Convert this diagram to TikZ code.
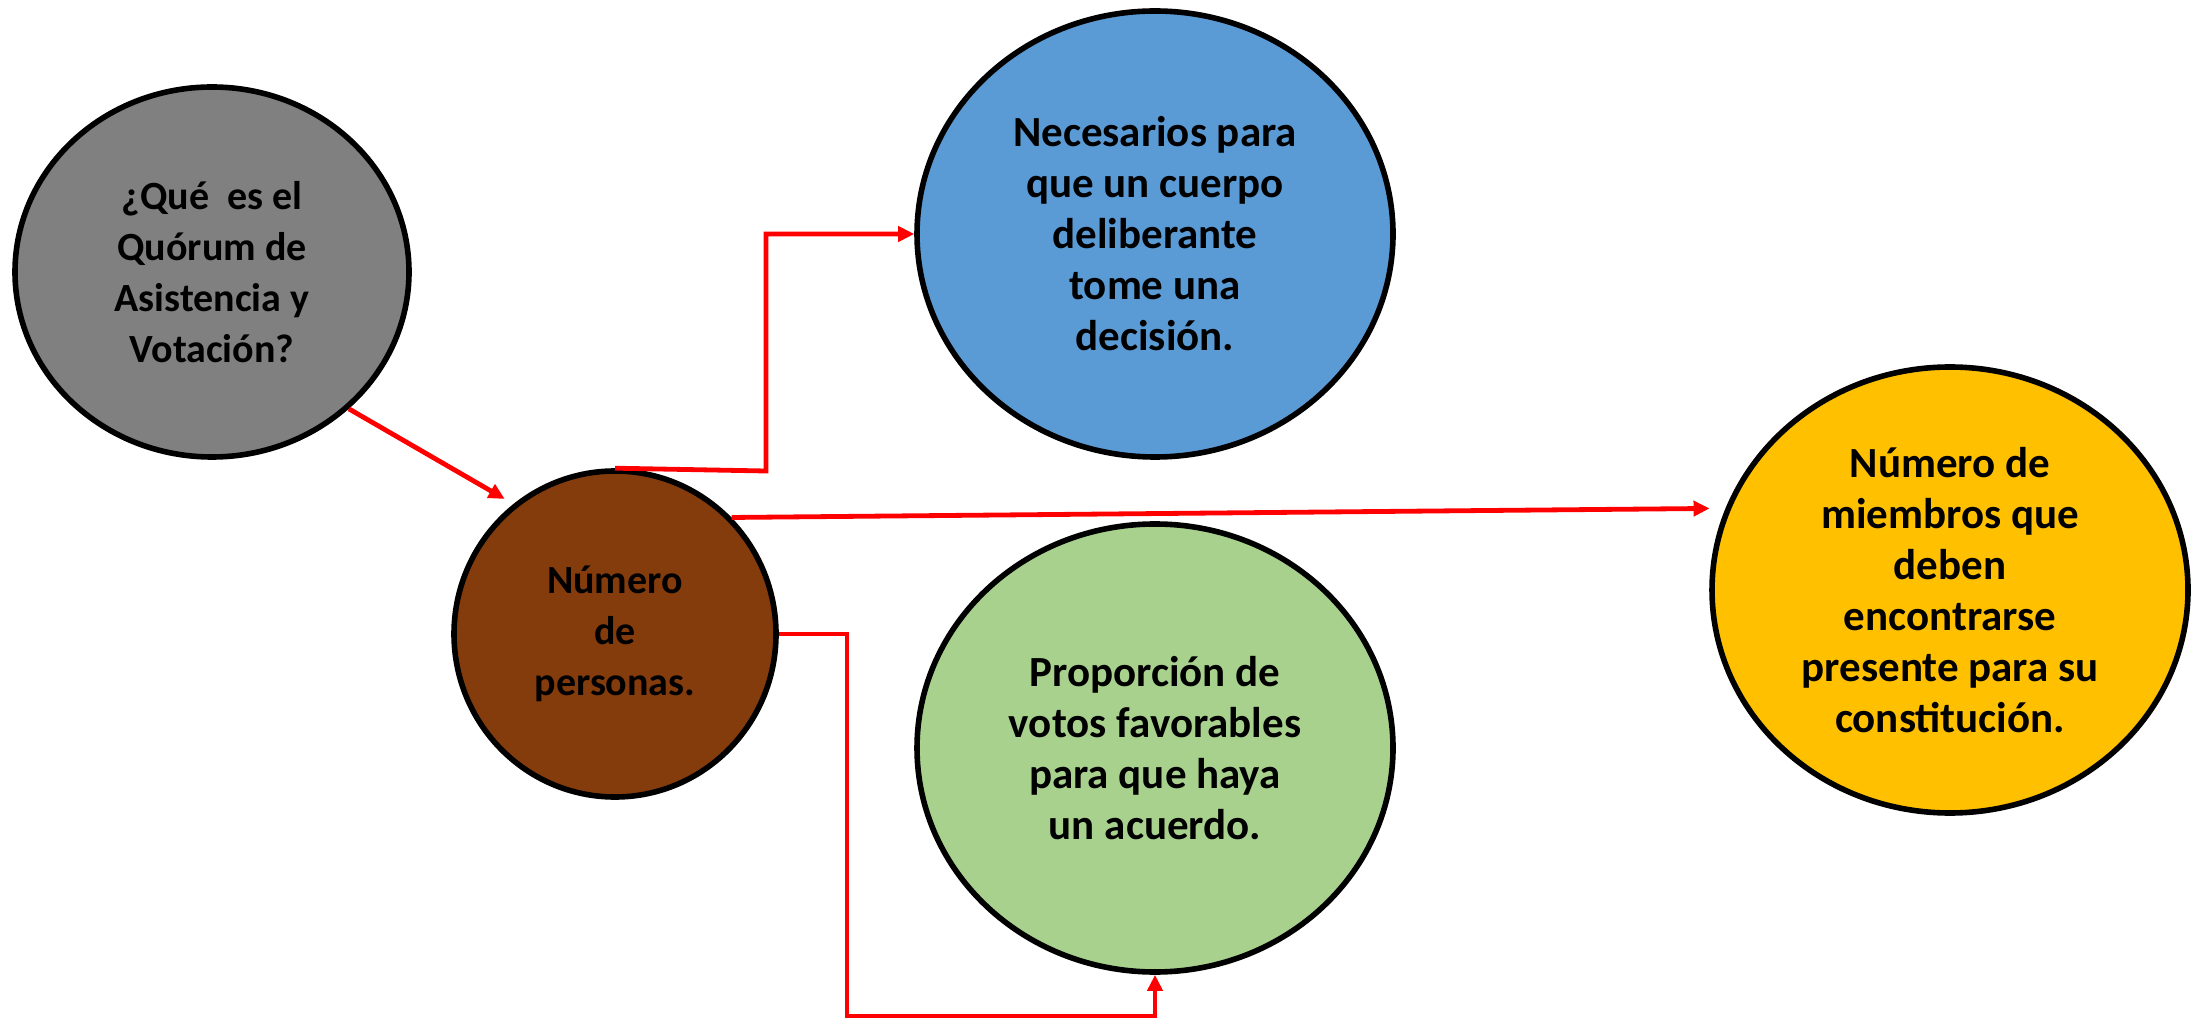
\documentclass[tikz,border=0pt]{standalone}
\usepackage{fontspec}
\setmainfont{Carlito}
\usetikzlibrary{shapes.geometric,arrows.meta}

\tikzset{every picture/.style={line width=0.8pt}}
\tikzset{bubble/.style={draw, ellipse, line width=2.8pt, inner sep=0pt, align=center, font=\fontsize{20}{25.5}\selectfont\bfseries},
         bigtext/.style={font=\fontsize{21.5}{25.5}\selectfont\bfseries},
         link/.style={draw={rgb, 255:red, 255; green, 0; blue, 0 }, line width=2.4pt},
         linkarrow/.style={link, -{Triangle[length=8pt,width=7.5pt]}}}

\begin{document}
\begin{tikzpicture}[x=0.5pt,y=0.5pt,yscale=-1, xscale=1]
\useasboundingbox (0,0) rectangle (2203,1020);

%Shape: Ellipse [id:question] 
\node (gray) [bubble, fill={rgb, 255:red, 128; green, 128; blue, 128 }, minimum width=197pt, minimum height=185pt] at (212,272) {¿Qué\ \ es el\\Quórum de\\Asistencia y\\Votación?};
%Shape: Ellipse [id:personas] 
\node (brown) [bubble, fill={rgb, 255:red, 132; green, 60; blue, 12 }, minimum width=161pt, minimum height=163pt] at (615,634) {Número\\de\\personas.};
%Shape: Ellipse [id:decision] 
\node (blue) [bubble, bigtext, fill={rgb, 255:red, 91; green, 155; blue, 213 }, minimum width=238pt, minimum height=223pt] at (1155,234) {Necesarios para\\que un cuerpo\\deliberante\\tome una\\decisión.};
%Shape: Ellipse [id:miembros] 
\node (yellow) [bubble, bigtext, fill={rgb, 255:red, 255; green, 192; blue, 0 }, minimum width=238pt, minimum height=223pt] at (1950,590) {Número de\\miembros que\\deben\\encontrarse\\presente para su\\constitución.};
%Shape: Ellipse [id:votos] 
\node (green) [bubble, bigtext, fill={rgb, 255:red, 169; green, 209; blue, 142 }, minimum width=238pt, minimum height=224pt] at (1155,748) {Proporción de\\votos favorables\\para que haya\\un acuerdo.};

%Straight Lines [id:gray-brown] 
\draw [linkarrow, shorten >=5pt] (gray.-45) -- (brown.128);
%Shape: Polyline [id:brown-blue] 
\coordinate (bendA) at (766,471);
\draw [linkarrow] (brown.north) -- (bendA) |- (blue.west);
%Straight Lines [id:brown-yellow] 
\draw [linkarrow, shorten >=8pt] (brown.45) -- (yellow.160);
%Shape: Polyline [id:brown-green] 
\coordinate (bendB) at (847,1016);
\draw [linkarrow] (brown.east) -| (bendB) -| (green.south);

\end{tikzpicture}
\end{document}
